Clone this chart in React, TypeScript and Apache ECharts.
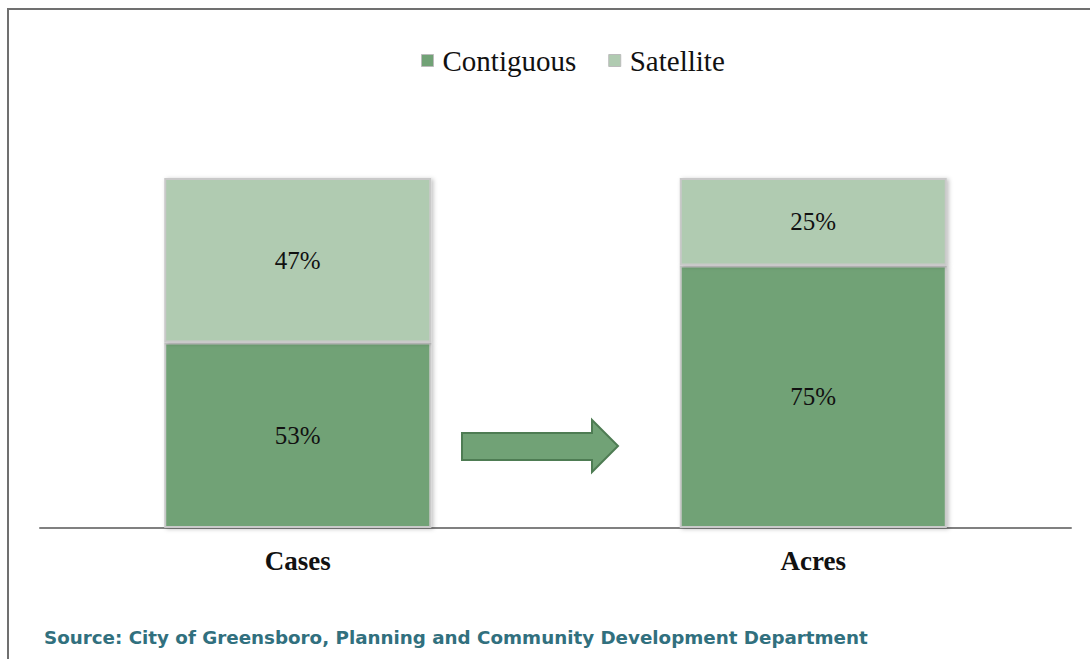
import React, { useEffect, useRef } from "react";
import * as echarts from "echarts";

const categories = ["Cases", "Acres"];
const contiguous = [53, 75];
const satellite = [47, 25];
const seriesNames = ["Contiguous", "Satellite"];
const sourceText = "Source: City of Greensboro, Planning and Community Development Department";

const DARK = "#71a276";
const LIGHT = "#b0cbb1";
const SERIF = "'Liberation Serif', 'Times New Roman', serif";

export default function App() {
  const ref = useRef<HTMLDivElement>(null);
  useEffect(() => {
    if (!ref.current) return;
    const chart = echarts.init(ref.current, null, { renderer: "svg" });
    const barStyle = (color: string) => ({
      color,
      borderColor: "#c9c9c9",
      borderWidth: 2,
      shadowBlur: 4,
      shadowColor: "rgba(0,0,0,0.25)",
      shadowOffsetX: 2,
      shadowOffsetY: 1,
    });
    const label = {
      show: true,
      position: "inside",
      formatter: "{c}%",
      fontFamily: SERIF,
      fontSize: 25,
      color: "#111",
    };
    chart.setOption({
      animation: false,
      backgroundColor: "#fff",
      legend: {
        data: seriesNames,
        top: 41,
        left: 416,
        icon: "rect",
        itemWidth: 12,
        itemHeight: 12,
        itemGap: 32,
        itemStyle: { borderColor: "#bbb", borderWidth: 1 },
        textStyle: {
          fontFamily: SERIF,
          fontSize: 29,
          color: "#111",
          padding: [0, 0, 0, 4],
        },
      },
      grid: { left: 40, right: 19, top: 178, bottom: 131 },
      xAxis: {
        type: "category",
        data: categories,
        axisLine: { lineStyle: { color: "#808080", width: 2 } },
        axisTick: { show: false },
        axisLabel: {
          margin: 19,
          fontFamily: SERIF,
          fontWeight: "bold",
          fontSize: 27,
          color: "#111",
        },
      },
      yAxis: { type: "value", min: 0, max: 100, show: false, splitLine: { show: false } },
      series: [
        {
          name: seriesNames[0],
          type: "bar",
          stack: "total",
          data: contiguous,
          barWidth: "51.8%",
          itemStyle: barStyle(DARK),
          label,
        },
        {
          name: seriesNames[1],
          type: "bar",
          stack: "total",
          data: satellite,
          barWidth: "51.8%",
          itemStyle: barStyle(LIGHT),
          label,
        },
      ],
      graphic: [
        {
          type: "rect",
          shape: { x: 8, y: 9, width: 1200, height: 800 },
          style: { fill: "none", stroke: "#707070", lineWidth: 2 },
          silent: true,
        },
        {
          type: "polygon",
          shape: {
            points: [
              [462, 433],
              [592, 433],
              [592, 420],
              [618, 446],
              [592, 472],
              [592, 460],
              [462, 460],
            ],
          },
          style: { fill: DARK, stroke: "#4e7c53", lineWidth: 2 },
        },
        {
          type: "text",
          left: 44,
          top: 628,
          style: {
            text: sourceText,
            fontFamily: "'DejaVu Sans', sans-serif",
            fontWeight: "bold",
            fontSize: 18.3,
            fill: "#31707e",
          },
        },
      ],
    });
    return () => chart.dispose();
  }, []);
  return (
    <div
      ref={ref}
      style={{ position: "fixed", left: 0, top: 0, width: 1090, height: 659 }}
    />
  );
}
